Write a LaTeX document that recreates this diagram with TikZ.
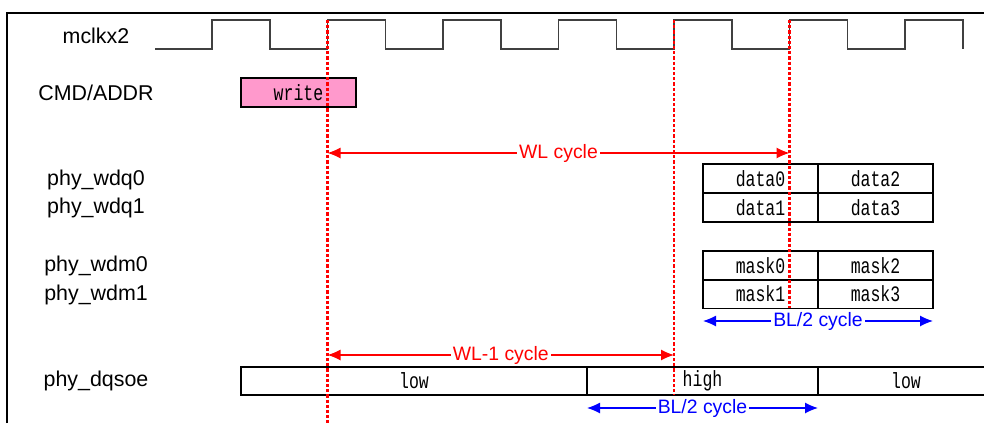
\documentclass[tikz,border=0pt]{standalone}
\usepackage{fontspec}
\setmainfont{Liberation Sans}
\newfontfamily\cellfont[FakeStretch=0.75]{Liberation Mono}
\usepackage{xcolor}
\usepackage{tikz}
\usetikzlibrary{arrows.meta}

\definecolor{wrpink}{RGB}{255,153,204}
\definecolor{clkgray}{RGB}{64,64,64}

\begin{document}
\begin{tikzpicture}[
  x=0.5pt, y=-0.5pt,
  every node/.style={inner sep=0pt},
  % --- text styles ---
  siglbl/.style={font=\fontsize{10.7}{12}\selectfont},
  redlbl/.style={fill=white, inner xsep=1pt, text=red,
    font=\fontsize{9.7}{11}\selectfont},
  bluelbl/.style={fill=white, inner xsep=1pt, text=blue,
    font=\fontsize{9.7}{11}\selectfont},
  % --- box styles ---
  cell/.style={
    draw=black, line width=0.6pt, minimum width=57.5pt,
    minimum height=14.5pt, font=\cellfont\fontsize{11}{12}\selectfont,
  },
  cmdcell/.style={cell, fill=wrpink},
  oecell/.style={cell, minimum height=14pt},
  % --- line styles ---
  clk/.style={draw=clkgray, line width=0.75pt},
  frame/.style={draw=black, line width=0.9pt},
  edgeline/.style={draw=red, line width=1.25pt, dash pattern=on 1.6pt off 1pt},
  redarr/.style={{Latex[length=6.5pt,width=5.5pt]}-{Latex[length=6.5pt,width=5.5pt]},
    draw=red, line width=0.6pt},
  bluearr/.style={{Latex[length=6.5pt,width=5.5pt]}-{Latex[length=6.5pt,width=5.5pt]},
    draw=blue, line width=0.6pt},
]

\useasboundingbox (0,0) rectangle (984,423);
\clip (0,0) rectangle (984,423);

% ---------- Frame ----------
\draw[frame] (7,423) |- (984,13);

% ---------- Row 1: mclkx2 ----------
\node[siglbl] (lclk) at (96,36) {mclkx2};
\draw[clk] (155,49) \foreach \k in {0,...,6} {
  -- ({212+115.5*\k},49) |- ({269.75+115.5*\k},20) -- ({269.75+115.5*\k},49)
};

% ---------- Row 2: CMD/ADDR ----------
\node[siglbl] (lcmd) at (96,93) {CMD/ADDR};
\node[cmdcell] (wr) at (298.5,92.5) {write};

% ---------- Row 3: write data ----------
\node[siglbl] (lwdq0) at (96,180) {phy\_wdq0};
\node[siglbl] (lwdq1) at (96,208) {phy\_wdq1};

\node[cell] (d0) at (760.5,178.5) {data0};
\node[cell] (d2) at (875.5,178.5) {data2};
\node[cell] (d1) at (760.5,207.5) {data1};
\node[cell] (d3) at (875.5,207.5) {data3};

% ---------- Row 4: write mask ----------
\node[siglbl] (lwdm0) at (96,266) {phy\_wdm0};
\node[siglbl] (lwdm1) at (96,295) {phy\_wdm1};

\node[cell] (m0) at (760.5,265.5) {mask0};
\node[cell] (m2) at (875.5,265.5) {mask2};
\node[cell] (m1) at (760.5,294) {mask1};
\node[cell] (m3) at (875.5,294) {mask3};

% ---------- Row 5: phy_dqsoe ----------
\node[siglbl] (loe) at (96,381) {phy\_dqsoe};

\node[oecell, minimum width=173pt] (q0) at (414,381) {low};
\node[oecell, minimum width=115.5pt] (q1) at (702.5,381) {high};
\node[oecell, minimum width=88pt] (q2) at (906,381) {low};

% ---------- Cycle markers ----------
\coordinate (c1) at (327.5,20);  \coordinate (c1b) at (327.5,423);
\coordinate (c2) at (674,20);    \coordinate (c2b) at (674,395);
\coordinate (c3) at (789.5,20);  \coordinate (c3b) at (789.5,308);

\coordinate (wlL) at (327.5,153);  \coordinate (wlR) at (789.5,153);
\coordinate (wl1L) at (327.5,355); \coordinate (wl1R) at (674,355);
\coordinate (blL) at (703,321);    \coordinate (blR) at (933,321);
\coordinate (oeL) at (587,408);    \coordinate (oeR) at (818,408);

\draw[redarr] (wlL) -- node[redlbl] {WL cycle} (wlR);
\draw[redarr] (wl1L) -- node[redlbl] {WL-1 cycle} (wl1R);
\draw[bluearr] (blL) -- node[bluelbl] {BL/2 cycle} (blR);
\draw[bluearr] (oeL) -- node[bluelbl] {BL/2 cycle} (oeR);

% dashed edges go over the boxes
\draw[edgeline] (c1) -- (c1b);
\draw[edgeline] (c2) -- (c2b);
\draw[edgeline] (c3) -- (c3b);

\end{tikzpicture}
\end{document}
